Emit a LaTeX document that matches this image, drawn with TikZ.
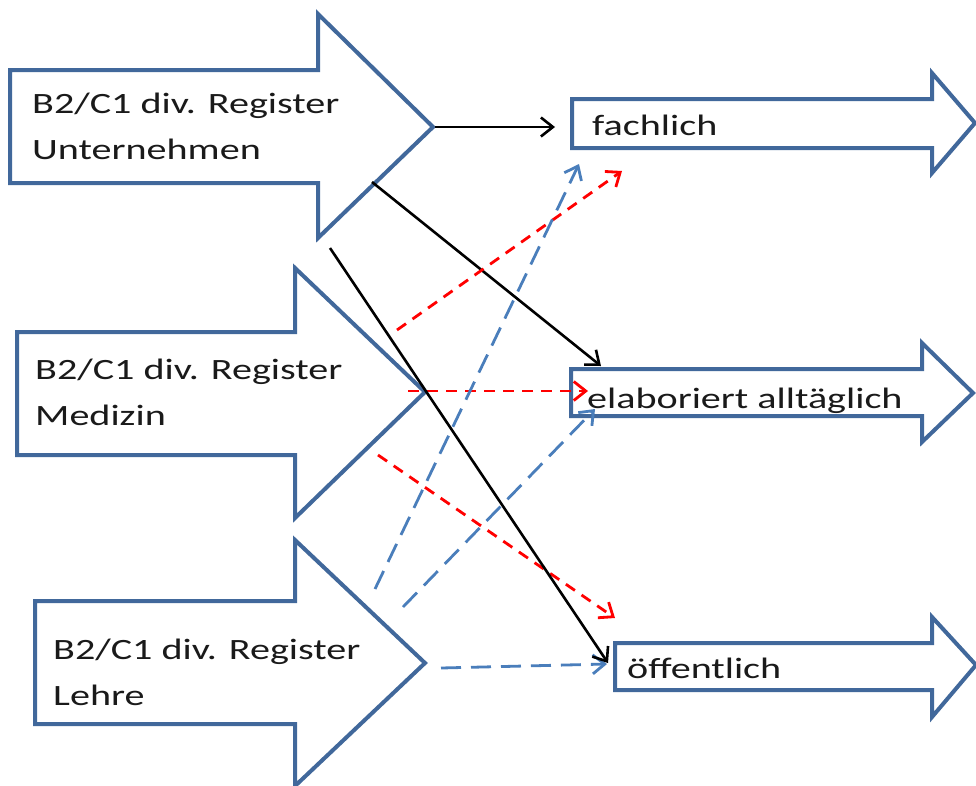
\documentclass[tikz,border=0pt]{standalone}
\usepackage{fontspec}
\newfontfamily\lblfont[FakeStretch=1.36]{Carlito}
\usetikzlibrary{arrows.meta}
\definecolor{frame}{HTML}{41689B}
\definecolor{bluedash}{HTML}{4A7EBB}
\definecolor{reddash}{HTML}{FF0000}
\definecolor{ink}{HTML}{1A1A1A}
\tikzset{
  outl/.style={draw=frame, fill=white, line width=4pt, line join=miter},
  conn/.style={draw=black, line width=2.6pt, -{Straight Barb[length=12pt,width=19pt]}},
  redc/.style={draw=reddash, line width=2.8pt, dash pattern=on 11pt off 8pt, -{Straight Barb[length=12pt,width=19pt]}},
  bluec/.style={draw=bluedash, line width=2.8pt, dash pattern=on 20pt off 10pt, -{Straight Barb[length=12pt,width=19pt]}},
  lab/.style={text=ink, font=\lblfont\fontsize{29.5}{46}\selectfont, inner sep=0pt, align=left, anchor=base west},
}

\begin{document}
\begin{tikzpicture}[x=1pt, y=-1pt]
  \useasboundingbox (0,0) rectangle (976,785);
  % source arrows
  \draw[outl] (10,70) -- (318,70) -- (318,14) -- (433,127) -- (318,238) -- (318,183) -- (10,183) -- cycle;
  \draw[outl] (17,332) -- (295,332) -- (295,268) -- (425,392) -- (295,518) -- (295,455) -- (17,455) -- cycle;
  \draw[outl] (35,601) -- (295,601) -- (295,540) -- (425,663) -- (295,786) -- (295,724) -- (35,724) -- cycle;
  % target arrows
  \draw[outl] (572,99) -- (932,99) -- (932,73) -- (975,123) -- (932,173) -- (932,148) -- (572,148) -- cycle;
  \draw[outl] (571,369) -- (922,369) -- (922,343) -- (973,393) -- (922,442) -- (922,416) -- (571,416) -- cycle;
  \draw[outl] (615,643) -- (932,643) -- (932,617) -- (976,665) -- (932,717) -- (932,690) -- (615,690) -- cycle;

  % base of a two-line label = baseline of its last line
  \node[lab] (unt) at (32,159) {B2/C1 div. Register\\Unternehmen};
  \node[lab] (med) at (35,425) {B2/C1 div. Register\\Medizin};
  \node[lab] (leh) at (53,705) {B2/C1 div. Register\\Lehre};
  \node[lab] (fach) at (592,135) {fachlich};
  \node[lab] (elab) at (587,408) {elaboriert alltäglich};
  \node[lab] (oeff) at (627,678) {öffentlich};

  % connector ends
  \coordinate (u1) at (435,127);
  \coordinate (u2) at (372,182);
  \coordinate (u3) at (330,248);
  \coordinate (m1) at (397,330);
  \coordinate (m2) at (408,391);
  \coordinate (m3) at (378,455);
  \coordinate (l1) at (375,589);
  \coordinate (l2) at (403,607);
  \coordinate (l3) at (441,668);
  \coordinate (fIn) at (555,127);
  \coordinate (fRed) at (622,171);
  \coordinate (fBlue) at (579,164);
  \coordinate (eIn) at (601,366);
  \coordinate (eRed) at (588,391);
  \coordinate (eBlue) at (595,409);
  \coordinate (oIn) at (608,663);
  \coordinate (oRed) at (615,618);
  \coordinate (oBlue) at (607,664);

  \draw[conn] (u1) -- (fIn);
  \draw[conn] (u2) -- (eIn);
  \draw[redc] (m1) -- (fRed);
  \draw[redc] (m2) -- (eRed);
  \draw[redc] (m3) -- (oRed);
  \draw[bluec] (l1) -- (fBlue);
  \draw[bluec] (l2) -- (eBlue);
  \draw[bluec] (l3) -- (oBlue);
  \draw[conn] (u3) -- (oIn);
\end{tikzpicture}
\end{document}
